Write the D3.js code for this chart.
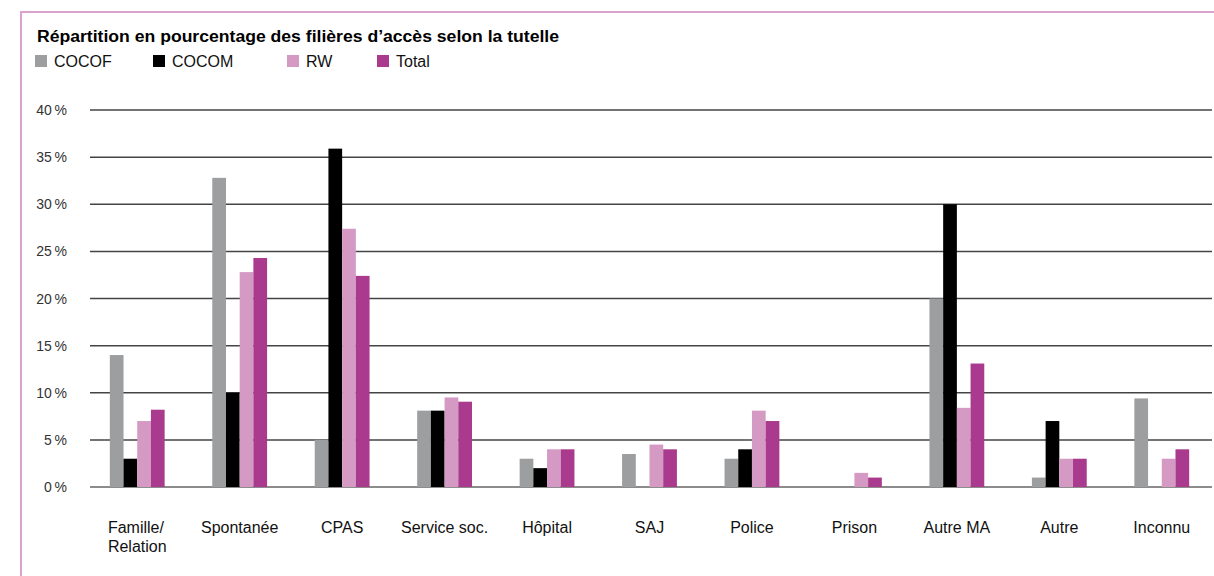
<!DOCTYPE html>
<html>
<head>
<meta charset="utf-8">
<script src="https://cdn.jsdelivr.net/npm/d3@7/dist/d3.min.js"></script>
<style>
  html, body { margin: 0; padding: 0; background: #fff; }
  svg { display: block; font-family: "Liberation Sans", Arial, sans-serif; }
</style>
</head>
<body>
<div id="chart"></div>
<script>
'use strict';

// categories (x axis), "\n" splits a label on two lines
var categories = ['Famille/\nRelation', 'Spontanée', 'CPAS', 'Service soc.', 'Hôpital', 'SAJ',
  'Police', 'Prison', 'Autre MA', 'Autre', 'Inconnu'];

// series names
var seriesNames = ['COCOF', 'COCOM', 'RW', 'Total'];

// values in percent, one array per series
var cocof = [14, 32.8, 5, 8.1, 3, 3.5, 3, 0, 20, 1, 9.4];
var cocom = [3, 10, 35.9, 8.1, 2, 0, 4, 0, 30, 7, 0];
var rw    = [7, 22.8, 27.4, 9.5, 4, 4.5, 8.1, 1.5, 8.4, 3, 3];
var total = [8.2, 24.3, 22.4, 9.05, 4, 4, 7, 1, 13.1, 3, 4];

// y ticks
var yTicks = [0, 5, 10, 15, 20, 25, 30, 35, 40];

var title = 'Répartition en pourcentage des filières d’accès selon la tutelle';

// sizes and colours
var width = 1214;
var height = 576;
var margins = { top: 110, right: 1, bottom: 89, left: 86 };
var colors = ['#9d9ea0', '#000000', '#d59ac4', '#a93a8d'];
var legendX = [35, 153, 287, 377];

var seriesValues = [cocof, cocom, rw, total];

var svg = d3.select('#chart').append('svg')
  .attr('width', width)
  .attr('height', height);

// frame (pink border on top and left)
svg.append('path')
  .attr('d', 'M21,' + height + 'V12H' + width)
  .attr('fill', 'none')
  .attr('stroke', '#d9a3cd')
  .attr('stroke-width', 2);

// title
svg.append('text')
  .attr('x', 37)
  .attr('y', 42)
  .attr('font-size', 16)
  .attr('font-weight', 'bold')
  .attr('fill', '#000')
  .attr('textLength', 522)
  .attr('lengthAdjust', 'spacingAndGlyphs')
  .text(title);

// legend
var legend = svg.append('g').attr('class', 'legend');
seriesNames.forEach(function (name, i) {
  legend.append('rect')
    .attr('x', legendX[i])
    .attr('y', 55)
    .attr('width', 12)
    .attr('height', 12)
    .attr('fill', colors[i]);
  legend.append('text')
    .attr('x', legendX[i] + 19)
    .attr('y', 67)
    .attr('font-size', 16)
    .attr('fill', '#111')
    .text(name);
});

// scales
var x0 = d3.scaleBand()
  .domain(categories)
  .range([margins.left, width - margins.right])
  .paddingInner(0.465)
  .paddingOuter(0.2325);

var x1 = d3.scaleBand()
  .domain(seriesNames)
  .range([0, x0.bandwidth()]);

var y = d3.scaleLinear()
  .domain([0, 40])
  .range([height - margins.bottom, margins.top]);

// grid lines
var grid = svg.append('g').attr('class', 'grid');
grid.selectAll('line')
  .data(yTicks)
  .enter().append('line')
  .attr('x1', 90)
  .attr('x2', 1212)
  .attr('y1', function (d) { return y(d); })
  .attr('y2', function (d) { return y(d); })
  .attr('stroke', function (d) { return d === 0 ? '#666' : '#444'; })
  .attr('stroke-width', 1.5);

// y labels
grid.selectAll('text')
  .data(yTicks)
  .enter().append('text')
  .attr('x', 67)
  .attr('y', function (d) { return y(d) + 5; })
  .attr('text-anchor', 'end')
  .attr('font-size', 14)
  .attr('fill', '#333')
  .text(function (d) { return d + '\u202F%'; });

// bars
var groups = svg.append('g').attr('class', 'bars')
  .selectAll('g')
  .data(categories)
  .enter().append('g')
  .attr('transform', function (d) { return 'translate(' + x0(d) + ',0)'; });

groups.selectAll('rect')
  .data(function (d, ci) {
    return seriesNames.map(function (s, si) {
      return { series: s, value: seriesValues[si][ci], color: colors[si] };
    });
  })
  .enter().append('rect')
  .attr('x', function (d) { return x1(d.series); })
  .attr('width', x1.bandwidth())
  .attr('y', function (d) { return y(d.value); })
  .attr('height', function (d) { return y(0) - y(d.value); })
  .attr('fill', function (d) { return d.color; });

// x labels
var xLabels = svg.append('g').attr('class', 'x-labels');
categories.forEach(function (c) {
  var lines = c.split('\n');
  var cx = x0(c) + x0.bandwidth() / 2;
  var t = xLabels.append('text')
    .attr('font-size', 16)
    .attr('fill', '#111')
    .attr('y', 533);
  lines.forEach(function (line, i) {
    t.append('tspan')
      .attr('x', cx)
      .attr('dy', i === 0 ? 0 : 19)
      .text(line);
  });
  if (lines.length > 1) {
    // multi-line labels are left aligned on the widest line
    var w = t.node().getBBox().width;
    t.selectAll('tspan').attr('x', cx - w / 2);
  } else {
    t.attr('text-anchor', 'middle');
  }
});
</script>
</body>
</html>
